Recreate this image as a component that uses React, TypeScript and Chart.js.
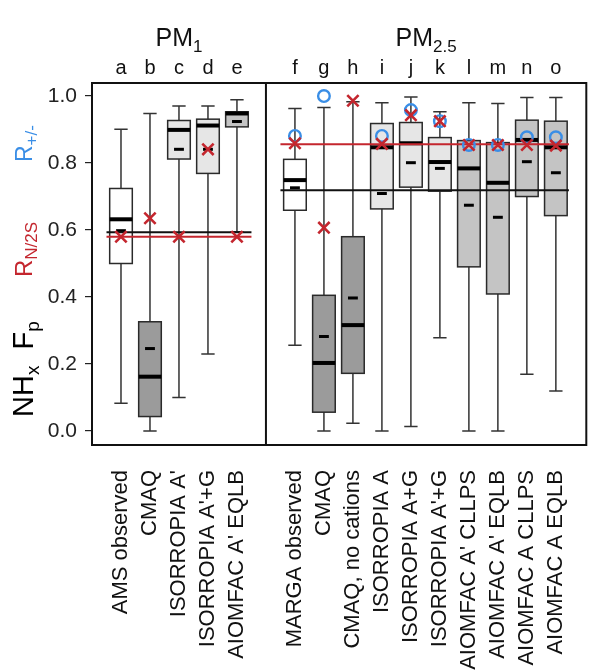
import React, { useEffect, useRef } from 'react';
import { Chart, registerables } from 'chart.js';

Chart.register(...registerables);

// ---------- data ----------
const letters = ['a', 'b', 'c', 'd', 'e', 'f', 'g', 'h', 'i', 'j', 'k', 'l', 'm', 'n', 'o'];
const names = [
  'AMS observed',
  'CMAQ',
  "ISORROPIA A'",
  "ISORROPIA A'+G",
  "AIOMFAC A' EQLB",
  'MARGA observed',
  'CMAQ',
  'CMAQ, no cations',
  'ISORROPIA A',
  'ISORROPIA A+G',
  "ISORROPIA A'+G",
  "AIOMFAC A' CLLPS",
  "AIOMFAC A' EQLB",
  'AIOMFAC A CLLPS',
  'AIOMFAC A EQLB',
];
const positions = [0, 1, 2, 3, 4, 6, 7, 8, 9, 10, 11, 12, 13, 14, 15];
const whiskerHigh = [0.901, 0.948, 0.970, 0.970, 0.989, 0.963, 0.966, 0.983, 0.980, 0.997, 0.953, 0.980, 0.978, 0.996, 0.996];
const q3 = [0.724, 0.326, 0.927, 0.931, 0.953, 0.811, 0.405, 0.580, 0.918, 0.921, 0.876, 0.867, 0.861, 0.928, 0.925];
const median = [0.632, 0.162, 0.899, 0.912, 0.948, 0.749, 0.203, 0.316, 0.847, 0.859, 0.803, 0.784, 0.741, 0.869, 0.847];
const mean = [0.598, 0.246, 0.841, 0.841, 0.924, 0.726, 0.282, 0.397, 0.709, 0.801, 0.784, 0.674, 0.638, 0.804, 0.771];
const q1 = [0.500, 0.043, 0.812, 0.769, 0.908, 0.659, 0.056, 0.172, 0.663, 0.728, 0.716, 0.490, 0.409, 0.700, 0.643];
const whiskerLow = [0.083, 0.000, 0.100, 0.230, 0.595, 0.256, 0.000, 0.023, 0.000, 0.013, 0.278, 0.000, 0.000, 0.169, 0.119];
// R_N/2S (red crosses)
const ratioNS = [0.580, 0.635, 0.580, 0.841, 0.580, 0.859, 0.607, 0.986, 0.857, 0.943, 0.925, 0.854, 0.854, 0.854, 0.852];
// R_+/- (blue circles)
const ratioPM: (number | null)[] = [null, null, null, null, null, 0.881, 1.0, null, 0.881, 0.958, 0.925, 0.854, 0.854, 0.877, 0.877];
// horizontal reference lines [xStart, xEnd, value]
const pm1Black = [-0.5, 4.5, 0.593];
const pm1Red = [-0.5, 4.5, 0.58];
const pm25Red = [5.5, 15.45, 0.856];
const pm25Black = [5.5, 15.45, 0.719];
const yTicks = [0, 0.2, 0.4, 0.6, 0.8, 1.0];

// ---------- styles ----------
const WHITE = '#ffffff';
const DARK = '#9b9b9b';
const LIGHT = '#e6e6e6';
const MID = '#c4c4c4';
const fills = [WHITE, DARK, LIGHT, LIGHT, MID, WHITE, DARK, DARK, LIGHT, LIGHT, LIGHT, MID, MID, MID, MID];
const RED = '#c4262e';
const BLUE = '#3a8ee6';
const FONT = '"Liberation Sans", Arial, sans-serif';

const boxPlugin = {
  id: 'boxes',
  beforeDatasetsDraw(chart: any) {
    const { ctx, scales } = chart;
    const x = scales.x;
    const y = scales.y;
    const unit = x.getPixelForValue(1) - x.getPixelForValue(0);
    const half = unit * 0.39;
    const capHalf = unit * 0.23;
    const meanHalf = unit * 0.17;
    ctx.save();
    positions.forEach((p, i) => {
      const cx = x.getPixelForValue(p);
      const yh = y.getPixelForValue(whiskerHigh[i]);
      const yl = y.getPixelForValue(whiskerLow[i]);
      const y3 = y.getPixelForValue(q3[i]);
      const y1 = y.getPixelForValue(q1[i]);
      const ym = y.getPixelForValue(median[i]);
      const ya = y.getPixelForValue(mean[i]);
      ctx.strokeStyle = '#333';
      ctx.lineWidth = 1.5;
      ctx.beginPath();
      ctx.moveTo(cx, yh);
      ctx.lineTo(cx, yl);
      ctx.moveTo(cx - capHalf, yh);
      ctx.lineTo(cx + capHalf, yh);
      ctx.moveTo(cx - capHalf, yl);
      ctx.lineTo(cx + capHalf, yl);
      ctx.stroke();
      ctx.fillStyle = fills[i];
      ctx.fillRect(cx - half, y3, 2 * half, y1 - y3);
      ctx.strokeStyle = '#2a2a2a';
      ctx.strokeRect(cx - half, y3, 2 * half, y1 - y3);
      ctx.fillStyle = '#000';
      ctx.fillRect(cx - half, ym - 2, 2 * half, 4);
      ctx.fillRect(cx - meanHalf, ya - 1.5, 2 * meanHalf, 3);
    });
    ctx.restore();
  },
  afterDatasetsDraw(chart: any) {
    const { ctx, chartArea, scales } = chart;
    ctx.save();
    ctx.strokeStyle = '#111';
    ctx.lineWidth = 2;
    ctx.strokeRect(chartArea.left, chartArea.top, chartArea.right - chartArea.left, chartArea.bottom - chartArea.top);
    const xd = scales.x.getPixelForValue(5);
    ctx.beginPath();
    ctx.moveTo(xd, chartArea.top);
    ctx.lineTo(xd, chartArea.bottom);
    ctx.stroke();
    ctx.restore();
  },
  afterDraw(chart: any) {
    const { ctx, scales, chartArea } = chart;
    const x = scales.x;
    ctx.save();
    ctx.fillStyle = '#111';
    // panel titles
    const drawTitle = (main: string, sub: string, center: number) => {
      ctx.font = `25px ${FONT}`;
      const w1 = ctx.measureText(main).width;
      ctx.font = `17px ${FONT}`;
      const w2 = ctx.measureText(sub).width;
      const start = center - (w1 + w2) / 2;
      ctx.textAlign = 'left';
      ctx.textBaseline = 'alphabetic';
      ctx.font = `25px ${FONT}`;
      ctx.fillText(main, start, 46);
      ctx.font = `17px ${FONT}`;
      ctx.fillText(sub, start + w1, 52);
    };
    const xd = x.getPixelForValue(5);
    drawTitle('PM', '1', (chartArea.left + xd) / 2);
    drawTitle('PM', '2.5', (xd + chartArea.right) / 2);
    // letters
    ctx.font = `20px ${FONT}`;
    ctx.textAlign = 'center';
    positions.forEach((p, i) => {
      ctx.fillText(letters[i], x.getPixelForValue(p), 74);
    });
    // y-axis title pieces (rotated)
    const rotated = (parts: [string, number, number][], color: string, baseX: number, startY: number) => {
      ctx.save();
      ctx.translate(baseX, startY);
      ctx.rotate(-Math.PI / 2);
      ctx.fillStyle = color;
      ctx.textAlign = 'left';
      let cur = 0;
      parts.forEach(([t, size, off]) => {
        ctx.font = `${size}px ${FONT}`;
        ctx.fillText(t, cur, off);
        cur += ctx.measureText(t).width;
      });
      ctx.restore();
    };
    rotated([['NH', 29, 0], ['x', 19, 6], ['  ', 29, 0], ['F', 29, 0], ['p', 19, 6]], '#000', 33, 417);
    rotated([['R', 24, 0], ['N/2S', 17, 5]], RED, 32, 277);
    rotated([['R', 23, 0], ['+/-', 17, 5]], BLUE, 32, 162);
    ctx.restore();
  },
};

export default function App() {
  const ref = useRef<HTMLCanvasElement | null>(null);
  useEffect(() => {
    if (!ref.current) return;
    const lineDs = (seg: number[], color: string) => ({
      type: 'line' as const,
      data: [
        { x: seg[0], y: seg[2] },
        { x: seg[1], y: seg[2] },
      ],
      borderColor: color,
      borderWidth: 2,
      pointRadius: 0,
      fill: false,
    });
    const chart = new Chart(ref.current, {
      type: 'scatter',
      data: {
        datasets: [
          {
            type: 'scatter',
            data: positions.map((p, i) => ({ x: p, y: ratioNS[i] })),
            pointStyle: 'crossRot',
            pointRadius: 8,
            borderColor: RED,
            backgroundColor: RED,
            borderWidth: 2.6,
          },
          {
            type: 'scatter',
            data: positions
              .map((p, i) => ({ x: p, y: ratioPM[i] }))
              .filter((d) => d.y !== null) as any,
            pointStyle: 'circle',
            pointRadius: 5.8,
            borderColor: BLUE,
            backgroundColor: 'rgba(0,0,0,0)',
            borderWidth: 2.4,
          },
          lineDs(pm1Red, RED),
          lineDs(pm25Red, RED),
          lineDs(pm1Black, '#111'),
          lineDs(pm25Black, '#111'),
        ] as any,
      },
      options: {
        animation: false,
        responsive: false,
        layout: { padding: { left: 0, right: 12, top: 83, bottom: 0 } },
        plugins: { legend: { display: false }, tooltip: { enabled: false } },
        scales: {
          x: {
            type: 'linear',
            min: -1,
            max: 16.05,
            afterBuildTicks: (scale: any) => {
              scale.ticks = positions.map((v) => ({ value: v }));
            },
            afterFit: (scale: any) => {
              scale.height = 227;
            },
            grid: { display: false },
            border: { display: false },
            ticks: {
              autoSkip: false,
              maxRotation: 90,
              minRotation: 90,
              padding: 17,
              color: '#111',
              font: { family: FONT, size: 22 },
              callback: (value: any) => {
                const idx = positions.indexOf(Number(value));
                return idx >= 0 ? names[idx] : '';
              },
            },
          },
          y: {
            type: 'linear',
            min: -0.042,
            max: 1.039,
            afterBuildTicks: (scale: any) => {
              scale.ticks = yTicks.map((v) => ({ value: v }));
            },
            afterFit: (scale: any) => {
              scale.width = 92;
            },
            grid: { drawOnChartArea: false, drawTicks: true, tickLength: 7, color: '#222', lineWidth: 1.2 },
            border: { display: false },
            ticks: {
              padding: 8,
              color: '#222',
              font: { family: FONT, size: 21 },
              callback: (value: any) => Number(value).toFixed(1),
            },
          },
        },
      } as any,
      plugins: [boxPlugin],
    });
    return () => chart.destroy();
  }, []);
  return (
    <div style={{ position: 'absolute', left: 0, top: 0, width: 600, height: 672, background: '#fff' }}>
      <canvas ref={ref} width={600} height={672} style={{ width: 600, height: 672, display: 'block' }} />
    </div>
  );
}
